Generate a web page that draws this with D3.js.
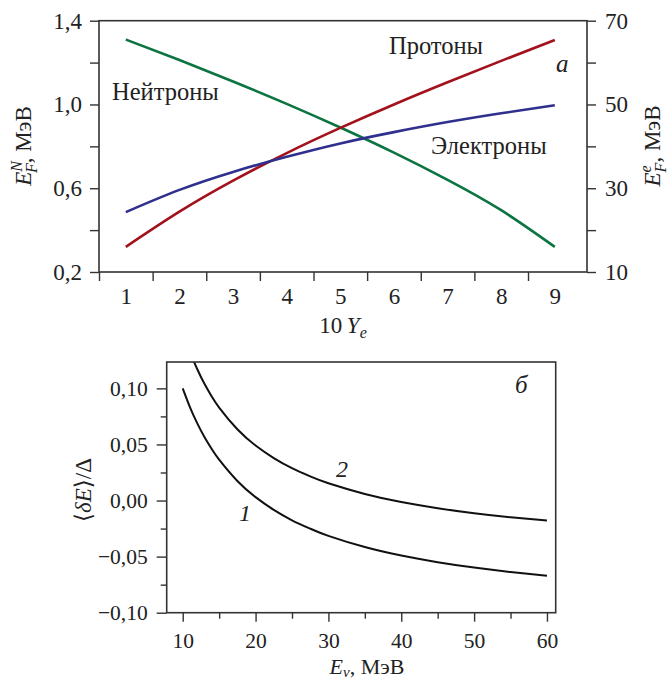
<!DOCTYPE html>
<html>
<head>
<meta charset="utf-8">
<script src="https://cdn.jsdelivr.net/npm/d3@7"></script>
<style>
  body { margin: 0; background: #fff; }
  svg { display: block; }
  text { font-family: "Liberation Serif", "DejaVu Serif", serif; fill: #222; }
  .tick line { stroke: #333; stroke-width: 1.4; }
  .top .tick text { font-size: 23px; }
  .bot .tick text { font-size: 21.5px; }
</style>
</head>
<body>
<script>
// ---- data ----
// panel a: 10*Ye on x axis
let yeValues = [1, 2, 3, 4, 5, 6, 7, 8, 9];
let neutrons = [1.31, 1.212, 1.11, 1.003, 0.89, 0.77, 0.64, 0.495, 0.32];     // left axis, MeV
let protons = [0.32, 0.488, 0.636, 0.768, 0.888, 1.00, 1.106, 1.208, 1.308];  // left axis, MeV
let electrons = [24.3, 29.6, 33.9, 37.5, 40.7, 43.4, 45.8, 47.9, 49.8];      // right axis, MeV
let leftTicks = [0.2, 0.6, 1.0, 1.4];
let leftMinor = [0.4, 0.8, 1.2];
let rightTicks = [10, 30, 50, 70];
let rightMinor = [20, 40, 60];
let yeTickMarks = [0.5, 1.5, 2.5, 3.5, 4.5, 5.5, 6.5, 7.5, 8.5];

// panel b
let energy1 = [10, 11, 12, 13, 14, 15, 17.5, 20, 22.5, 25, 27.5, 30, 35, 40, 45, 50, 55, 60];
let curve1 = [0.100, 0.0831, 0.0688, 0.0564, 0.0457, 0.0364, 0.0174, 0.003, -0.0084, -0.0176, -0.0251, -0.0315, -0.0415, -0.0491, -0.055, -0.0598, -0.0637, -0.067];
let energy2 = [11.5, 12, 13, 14, 15, 17.5, 20, 22.5, 25, 27.5, 30, 35, 40, 45, 50, 55, 60];
let curve2 = [0.1245, 0.117, 0.1038, 0.0926, 0.0829, 0.0635, 0.049, 0.0378, 0.0288, 0.0215, 0.0154, 0.0059, -0.0013, -0.0068, -0.0113, -0.0149, -0.0179];
let bTicksY = [-0.10, -0.05, 0.00, 0.05, 0.10];
let bMinorY = [-0.075, -0.025, 0.025, 0.075];
let bTicksX = [10, 20, 30, 40, 50, 60];
let bMinorX = [15, 25, 35, 45, 55];

// ---- canvas ----
let width = 670;
let height = 681;
let svg = d3.select('body').append('svg')
   .attr('width', width)
   .attr('height', height);

let ruFormat = d3.formatLocale({decimal: ',', thousands: ' ', grouping: [3], currency: ['', ''], minus: '\u2212'});
let fmt1 = ruFormat.format('.1f');
let fmt2 = ruFormat.format('.2f');

let axisColor = '#333';

let drawFrame = (x0, y0, x1, y1) => {
   svg.append('rect')
      .attr('x', x0).attr('y', y0)
      .attr('width', x1 - x0).attr('height', y1 - y0)
      .attr('fill', 'none')
      .attr('stroke', axisColor)
      .attr('stroke-width', 1.6);
}

let cleanAxis = (g) => {
   g.select('.domain').remove();
   g.selectAll('.tick line').attr('stroke', axisColor);
}

// ---- panel a ----
let aLeft = 99, aRight = 587, aTop = 20.7, aBottom = 272;
let xA = d3.scaleLinear().domain([0.5, 9.6]).range([aLeft, aRight]);
let yA = d3.scaleLinear().domain([0.2, 1.4]).range([aBottom, aTop]);
let yAe = d3.scaleLinear().domain([10, 70]).range([aBottom, aTop]);

let drawPanelA = () => {
   let g = svg.append('g').attr('class', 'top');
   // x labels at integers, tick marks at half-integers
   g.append('g')
      .attr('transform', 'translate(0,' + aBottom + ')')
      .call(d3.axisBottom(xA).tickValues(yeValues).tickSize(0).tickPadding(16).tickFormat(d3.format('d')))
      .call(cleanAxis);
   g.append('g')
      .attr('transform', 'translate(0,' + aBottom + ')')
      .call(d3.axisBottom(xA).tickValues(yeTickMarks).tickSize(9).tickFormat(''))
      .call(cleanAxis);
   g.append('g')
      .attr('transform', 'translate(' + aLeft + ',0)')
      .call(d3.axisLeft(yA).tickValues(leftTicks).tickSize(9).tickPadding(8).tickFormat(fmt1))
      .call(cleanAxis);
   g.append('g')
      .attr('transform', 'translate(' + aLeft + ',0)')
      .call(d3.axisLeft(yA).tickValues(leftMinor).tickSize(9).tickFormat(''))
      .call(cleanAxis);
   g.append('g')
      .attr('transform', 'translate(' + aRight + ',0)')
      .call(d3.axisRight(yAe).tickValues(rightTicks).tickSize(9).tickPadding(9).tickFormat(d3.format('d')))
      .call(cleanAxis);
   g.append('g')
      .attr('transform', 'translate(' + aRight + ',0)')
      .call(d3.axisRight(yAe).tickValues(rightMinor).tickSize(9).tickFormat(''))
      .call(cleanAxis);
   drawFrame(aLeft, aTop, aRight, aBottom);

   let lineN = d3.line().x((d, i) => xA(yeValues[i])).y((d) => yA(d)).curve(d3.curveNatural);
   let lineE = d3.line().x((d, i) => xA(yeValues[i])).y((d) => yAe(d)).curve(d3.curveNatural);

   svg.append('path').attr('d', lineN(neutrons))
      .attr('fill', 'none').attr('stroke', '#0b7440').attr('stroke-width', 2.6);
   svg.append('path').attr('d', lineN(protons))
      .attr('fill', 'none').attr('stroke', '#a3111c').attr('stroke-width', 2.6);
   svg.append('path').attr('d', lineE(electrons))
      .attr('fill', 'none').attr('stroke', '#2f2f8e').attr('stroke-width', 2.6);

   svg.append('text').attr('x', 112).attr('y', 100).attr('font-size', 24.5).text('Нейтроны');
   svg.append('text').attr('x', 389).attr('y', 54).attr('font-size', 24.5).text('Протоны');
   svg.append('text').attr('x', 431).attr('y', 154).attr('font-size', 24.5).text('Электроны');
   svg.append('text').attr('x', 556).attr('y', 72).attr('font-size', 25).attr('font-style', 'italic').text('а');

   // x title: 10 Y_e
   let xt = svg.append('text').attr('x', 343).attr('y', 333).attr('text-anchor', 'middle').attr('font-size', 23);
   xt.append('tspan').text('10\u2009');
   xt.append('tspan').attr('font-style', 'italic').text('Y');
   xt.append('tspan').attr('font-style', 'italic').attr('font-size', 16).attr('dy', 5).text('e');

   // left title: E_F^N, МэВ
   let lt = svg.append('text')
      .attr('transform', 'translate(31,146) rotate(-90)')
      .attr('text-anchor', 'middle').attr('font-size', 23);
   lt.append('tspan').attr('font-style', 'italic').text('E');
   lt.append('tspan').attr('font-style', 'italic').attr('font-size', 16).attr('dy', -9).text('N');
   lt.append('tspan').attr('font-style', 'italic').attr('font-size', 16).attr('dx', -12).attr('dy', 15).text('F');
   lt.append('tspan').attr('dy', -6).text(', МэВ');

   // right title: E_F^e, МэВ
   let rt = svg.append('text')
      .attr('transform', 'translate(660,146) rotate(-90)')
      .attr('text-anchor', 'middle').attr('font-size', 23);
   rt.append('tspan').attr('font-style', 'italic').text('E');
   rt.append('tspan').attr('font-style', 'italic').attr('font-size', 16).attr('dy', -9).text('e');
   rt.append('tspan').attr('font-style', 'italic').attr('font-size', 16).attr('dx', -7).attr('dy', 15).text('F');
   rt.append('tspan').attr('dy', -6).text(', МэВ');
}

// ---- panel b ----
let bLeft = 166.7, bRight = 555.7, bTop = 362, bBottom = 612.7;
let xB = d3.scaleLinear().domain([7.8, 61.2]).range([bLeft, bRight]);
let yB = d3.scaleLinear().domain([-0.10, 0.1235]).range([bBottom, bTop]);

let drawPanelB = () => {
   let g = svg.append('g').attr('class', 'bot');
   g.append('g')
      .attr('transform', 'translate(0,' + bBottom + ')')
      .call(d3.axisBottom(xB).tickValues(bTicksX).tickSize(9).tickPadding(11).tickFormat(d3.format('d')))
      .call(cleanAxis);
   g.append('g')
      .attr('transform', 'translate(0,' + bBottom + ')')
      .call(d3.axisBottom(xB).tickValues(bMinorX).tickSize(6).tickFormat(''))
      .call(cleanAxis);
   g.append('g')
      .attr('transform', 'translate(' + bLeft + ',0)')
      .call(d3.axisLeft(yB).tickValues(bTicksY).tickSize(10).tickPadding(9).tickFormat(fmt2))
      .call(cleanAxis);
   g.append('g')
      .attr('transform', 'translate(' + bLeft + ',0)')
      .call(d3.axisLeft(yB).tickValues(bMinorY).tickSize(6).tickFormat(''))
      .call(cleanAxis);

   svg.append('clipPath').attr('id', 'clipB')
      .append('rect').attr('x', bLeft).attr('y', bTop)
      .attr('width', bRight - bLeft).attr('height', bBottom - bTop);

   let line1 = d3.line().x((d, i) => xB(energy1[i])).y((d) => yB(d)).curve(d3.curveNatural);
   let line2 = d3.line().x((d, i) => xB(energy2[i])).y((d) => yB(d)).curve(d3.curveNatural);

   svg.append('path').attr('d', line1(curve1)).attr('clip-path', 'url(#clipB)')
      .attr('fill', 'none').attr('stroke', '#111').attr('stroke-width', 2);
   svg.append('path').attr('d', line2(curve2)).attr('clip-path', 'url(#clipB)')
      .attr('fill', 'none').attr('stroke', '#111').attr('stroke-width', 2);

   drawFrame(bLeft, bTop, bRight, bBottom);

   svg.append('text').attr('x', 239).attr('y', 521).attr('font-size', 24).attr('font-style', 'italic').text('1');
   svg.append('text').attr('x', 336).attr('y', 477).attr('font-size', 24).attr('font-style', 'italic').text('2');
   svg.append('text').attr('x', 515).attr('y', 393).attr('font-size', 25).attr('font-style', 'italic').text('б');

   // x title: E_ν, МэВ
   let xt = svg.append('text').attr('x', 367).attr('y', 674).attr('text-anchor', 'middle').attr('font-size', 22);
   xt.append('tspan').attr('font-style', 'italic').text('E');
   xt.append('tspan').attr('font-style', 'italic').attr('font-size', 15).attr('dy', 3).text('ν');
   xt.append('tspan').attr('dy', -3).text(', МэВ');

   // y title: ⟨δE⟩/Δ
   let yt = svg.append('text')
      .attr('transform', 'translate(91,490) rotate(-90)')
      .attr('text-anchor', 'middle').attr('font-size', 23);
   yt.append('tspan').text('\u27E8');
   yt.append('tspan').attr('font-style', 'italic').text('δE');
   yt.append('tspan').text('\u27E9/Δ');
}

drawPanelA();
drawPanelB();
</script>
</body>
</html>
